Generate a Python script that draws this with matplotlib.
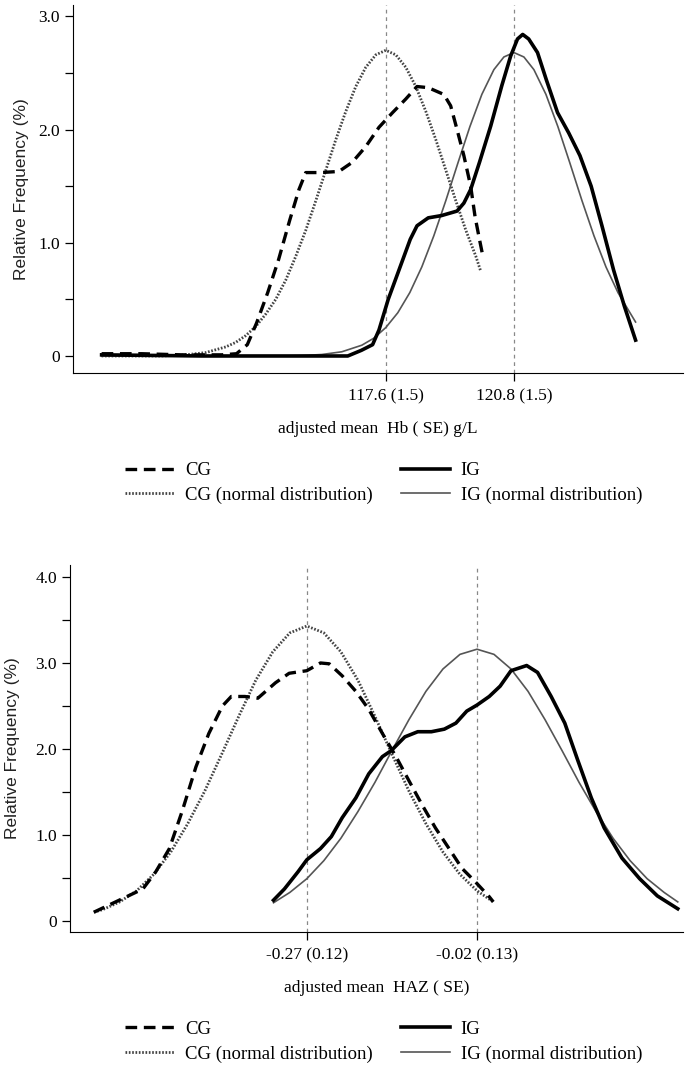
import matplotlib.pyplot as plt
from matplotlib.lines import Line2D

# ---- panel A: haemoglobin ----
hb_cg_x = [110.5, 111.5, 112.5, 113.5, 113.87, 114.14, 114.37, 114.65, 114.92, 115.2, 115.43, 115.6,
           115.98, 116.43, 116.76, 117.1, 117.43, 117.77, 118.1, 118.38, 118.66, 119.05, 119.22,
           119.38, 119.55, 119.72, 119.83, 119.94, 120.02]
hb_cg_y = [0.02, 0.02, 0.01, 0.01, 0.02, 0.10, 0.29, 0.56, 0.85, 1.2, 1.47, 1.62,
           1.62, 1.63, 1.71, 1.85, 2.02, 2.15, 2.27, 2.38, 2.37, 2.31, 2.21,
           2.0, 1.77, 1.5, 1.23, 1.03, 0.89]
hb_cgn_x = [110.5, 112.0, 112.6, 113.1, 113.6, 113.85, 114.1, 114.35, 114.6, 114.85, 115.1, 115.35,
            115.6, 115.85, 116.1, 116.35, 116.6, 116.85, 117.1, 117.35, 117.6, 117.85, 118.1,
            118.35, 118.6, 118.85, 119.1, 119.35, 119.6, 119.85, 119.97]
hb_cgn_y = [0.0, 0.0, 0.01, 0.03, 0.08, 0.12, 0.18, 0.26, 0.37, 0.50, 0.67, 0.88,
            1.11, 1.37, 1.64, 1.91, 2.16, 2.38, 2.55, 2.66, 2.70, 2.66, 2.55,
            2.38, 2.16, 1.91, 1.64, 1.37, 1.11, 0.88, 0.75]
hb_ig_x = [110.5, 113.0, 116.65, 116.99, 117.27, 117.43, 117.66, 117.93, 118.21, 118.38, 118.66,
           118.99, 119.38, 119.55, 119.72, 119.94, 120.22, 120.5, 120.72, 120.89, 121.02, 121.17,
           121.39, 121.61, 121.89, 122.17, 122.45, 122.73, 123.0, 123.29, 123.56, 123.84]
hb_ig_y = [0.01, 0.0, 0.0, 0.05, 0.10, 0.23, 0.5, 0.76, 1.03, 1.15, 1.22,
           1.24, 1.28, 1.35, 1.47, 1.71, 2.03, 2.39, 2.65, 2.80, 2.84, 2.80,
           2.68, 2.44, 2.15, 1.97, 1.77, 1.5, 1.15, 0.76, 0.44, 0.14]
hb_ign_x = [110.5, 115.0, 115.5, 116.0, 116.5, 117.0, 117.3, 117.6, 117.9, 118.2, 118.5, 118.8,
            119.1, 119.4, 119.7, 120.0, 120.3, 120.55, 120.8, 121.05, 121.3, 121.6, 121.9,
            122.2, 122.5, 122.8, 123.1, 123.4, 123.7, 123.84]
hb_ign_y = [0.0, 0.0, 0.004, 0.013, 0.037, 0.095, 0.157, 0.251, 0.382, 0.56, 0.787, 1.062,
            1.373, 1.703, 2.025, 2.311, 2.529, 2.641, 2.68, 2.641, 2.529, 2.311, 2.025,
            1.703, 1.373, 1.062, 0.787, 0.56, 0.382, 0.30]
hb_means = [117.6, 120.8]
hb_ticklabels = ["117.6 (1.5)", "120.8 (1.5)"]

# ---- panel B: height-for-age z ----
haz_cg_x = [-0.583, -0.551, -0.511, -0.492, -0.472, -0.453, -0.433, -0.414, -0.394, -0.381, -0.361,
            -0.342, -0.316, -0.296, -0.27, -0.25, -0.237, -0.218, -0.198, -0.179, -0.159, -0.139,
            -0.12, -0.1, -0.081, -0.061, -0.042, -0.022, -0.002, 0.004]
haz_cg_y = [0.10, 0.22, 0.37, 0.57, 0.84, 1.28, 1.79, 2.18, 2.5, 2.61, 2.61,
            2.59, 2.77, 2.88, 2.91, 3.0, 2.99, 2.85, 2.67, 2.46, 2.18, 1.91,
            1.63, 1.34, 1.08, 0.84, 0.61, 0.45, 0.28, 0.22]
haz_cgn_x = [-0.583, -0.57, -0.545, -0.52, -0.495, -0.47, -0.445, -0.42, -0.395, -0.37, -0.345,
             -0.32, -0.295, -0.27, -0.245, -0.22, -0.195, -0.17, -0.145, -0.12, -0.095, -0.07,
             -0.045, -0.02, 0.004]
haz_cgn_y = [0.10, 0.13, 0.22, 0.35, 0.54, 0.80, 1.13, 1.51, 1.94, 2.38, 2.80,
             3.13, 3.35, 3.43, 3.35, 3.13, 2.80, 2.38, 1.94, 1.51, 1.13, 0.80,
             0.54, 0.35, 0.22]
haz_ig_x = [-0.319, -0.303, -0.283, -0.27, -0.25, -0.234, -0.218, -0.198, -0.179, -0.159, -0.146,
            -0.126, -0.107, -0.087, -0.068, -0.051, -0.035, -0.02, -0.002, 0.014, 0.03, 0.053,
            0.069, 0.089, 0.109, 0.128, 0.148, 0.167, 0.193, 0.219, 0.245, 0.275]
haz_ig_y = [0.24, 0.37, 0.57, 0.71, 0.84, 0.98, 1.2, 1.43, 1.71, 1.91, 1.98,
            2.14, 2.2, 2.2, 2.23, 2.30, 2.44, 2.51, 2.61, 2.73, 2.91, 2.97,
            2.89, 2.61, 2.3, 1.87, 1.43, 1.08, 0.73, 0.49, 0.29, 0.14]
haz_ign_x = [-0.319, -0.295, -0.27, -0.245, -0.22, -0.195, -0.17, -0.145, -0.12, -0.095, -0.07,
             -0.045, -0.02, 0.005, 0.03, 0.055, 0.08, 0.105, 0.13, 0.155, 0.18, 0.205, 0.23,
             0.255, 0.275]
haz_ign_y = [0.21, 0.33, 0.49, 0.70, 0.96, 1.27, 1.61, 1.98, 2.34, 2.67, 2.93,
             3.10, 3.16, 3.10, 2.93, 2.67, 2.34, 1.98, 1.61, 1.27, 0.96, 0.70, 0.49,
             0.33, 0.22]
haz_means = [-0.27, -0.02]
haz_ticklabels = ["-0.27 (0.12)", "-0.02 (0.13)"]

serif = "Liberation Serif"
sans = "Liberation Sans"

fig = plt.figure(figsize=(7, 10.65), dpi=100)

def draw_panel(ax, cg, cgn, ig, ign, means, labels, xlim, ylim, yticks, ylabs, xlabel, ylab_x):
    ax.plot(cgn[0], cgn[1], color="#444444", lw=2.0, ls=(0, (0.6, 0.6)))
    ax.plot(ign[0], ign[1], color="#555555", lw=1.2)
    ax.plot(cg[0], cg[1], color="black", lw=2.4, ls=(0, (3.5, 2)))
    ax.plot(ig[0], ig[1], color="black", lw=2.6, solid_joinstyle="round")
    for m in means:
        ax.axvline(m, color="#888888", lw=0.9, ls=(0, (3, 3)), zorder=0)
    ax.set_xlim(*xlim)
    ax.set_ylim(*ylim)
    ax.spines["top"].set_visible(False)
    ax.spines["right"].set_visible(False)
    ax.set_xticks(means)
    ax.set_xticklabels(labels, fontfamily=serif, fontsize=12.5)
    ax.set_yticks(yticks)
    ax.set_yticklabels(ylabs, fontfamily=serif, fontsize=12.5)
    ax.set_yticks([v + 0.5 for v in yticks[:-1]], minor=True)
    ax.tick_params(axis="both", which="both", length=6, width=0.9, direction="out")
    ax.tick_params(axis="x", pad=5)
    ax.set_xlabel(xlabel, fontfamily=serif, fontsize=12.5, labelpad=12)
    ax.set_ylabel("Relative Frequency (%)", fontfamily=sans, fontsize=12.5, color="#222222")
    ax.yaxis.set_label_coords(ylab_x, 0.5)

ax1 = fig.add_axes([0.104, 0.6498, 0.872, 0.3455])
draw_panel(ax1, (hb_cg_x, hb_cg_y), (hb_cgn_x, hb_cgn_y), (hb_ig_x, hb_ig_y),
           (hb_ign_x, hb_ign_y), hb_means, hb_ticklabels, (109.78, 125.03), (-0.15, 3.1),
           [0, 1, 2, 3], ["0", "1.0", "2.0", "3.0"], "adjusted mean  Hb ( SE) g/L", -0.072)

ax2 = fig.add_axes([0.100, 0.1249, 0.876, 0.3446])
draw_panel(ax2, (haz_cg_x, haz_cg_y), (haz_cgn_x, haz_cgn_y), (haz_ig_x, haz_ig_y),
           (haz_ign_x, haz_ign_y), haz_means, haz_ticklabels, (-0.618, 0.283), (-0.13, 4.14),
           [0, 1, 2, 3, 4], ["0", "1.0", "2.0", "3.0", "4.0"], "adjusted mean  HAZ ( SE)", -0.082)

handles = [
    Line2D([], [], color="black", lw=2.4, ls=(0, (3.5, 2))),
    Line2D([], [], color="#444444", lw=2.0, ls=(0, (0.6, 0.6))),
    Line2D([], [], color="black", lw=2.6),
    Line2D([], [], color="#555555", lw=1.2),
]
names = ["CG", "CG (normal distribution)", "IG", "IG (normal distribution)"]
for yc in (0.5465, 0.022):
    fig.legend(handles, names, loc="center", bbox_to_anchor=(0.548, yc), ncol=2, frameon=False,
               handlelength=2.6, handletextpad=0.6, columnspacing=1.5, labelspacing=0.4,
               prop={"family": serif, "size": 13.5})

fig.savefig("out.png", dpi=100)
